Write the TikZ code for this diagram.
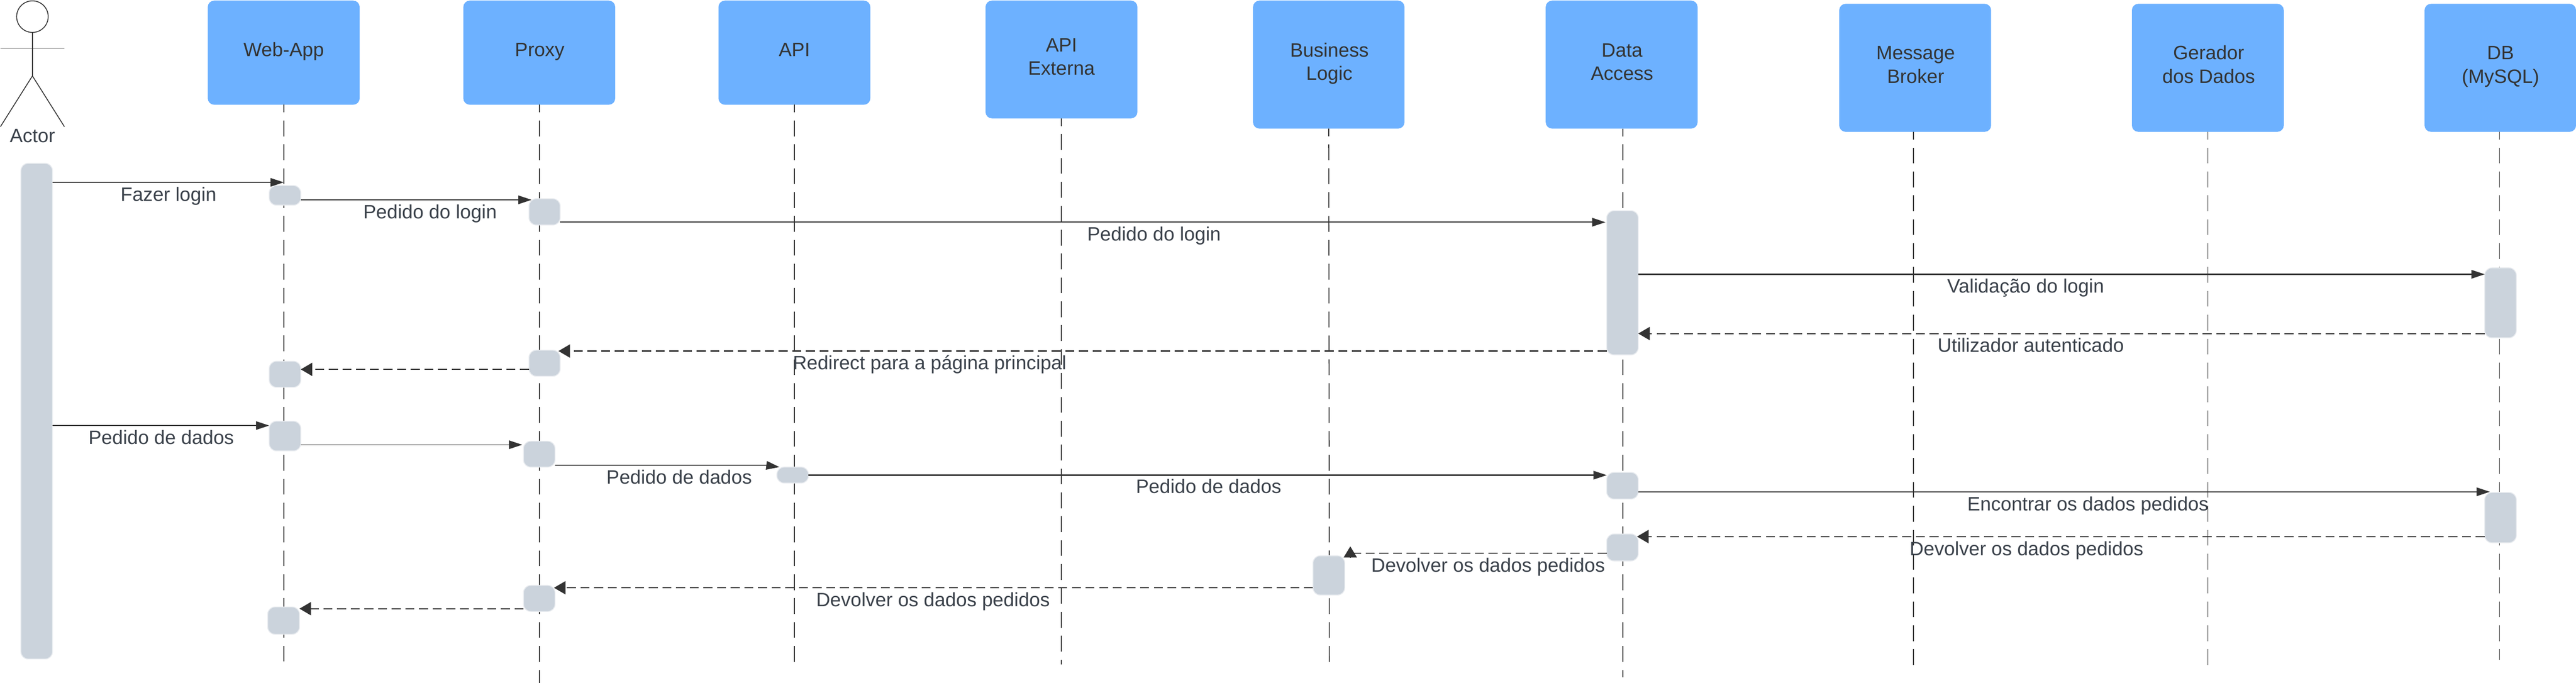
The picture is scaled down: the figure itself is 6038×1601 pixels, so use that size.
\documentclass[tikz,border=0pt]{standalone}
\usepackage{fontspec}
\setmainfont{Liberation Sans}
\usetikzlibrary{arrows.meta}
\definecolor{boxblue}{HTML}{6DB1FF}
\definecolor{actfill}{HTML}{CBD3DC}
\definecolor{actline}{HTML}{E8EBEF}
\definecolor{ink}{HTML}{333333}
\definecolor{labelink}{HTML}{3A414A}
\tikzset{
  partbox/.style={fill=boxblue,draw=none,rounded corners=15pt,inner sep=0pt,outer sep=0pt},
  parttext/.style={anchor=base,inner sep=0pt,outer sep=0pt,text=ink,font=\fontsize{45.4}{55}\selectfont},
  msglabel/.style={anchor=base,inner sep=0pt,outer sep=0pt,text=labelink,font=\fontsize{45.4}{55}\selectfont},
  lifeline/.style={draw=ink,line width=2.2pt,dash pattern=on 37pt off 19pt,dash phase=19pt},
  actbar/.style={fill=actfill,draw=actline,line width=2pt,rounded corners=17pt,inner sep=0pt,outer sep=0pt},
  solidmsg/.style={draw=ink,line width=#1,-{Triangle[length=31pt,width=20pt]}},
  solidmsg/.default=2.5pt,
  retmsg/.style={draw=ink,line width=#1,dash pattern=on 21pt off 11pt,-{Triangle[length=27pt,width=31pt]}},
  retmsg/.default=2.5pt,
  stick/.style={draw=ink,line width=2pt}
}
\newcommand{\partbx}[5]{%
  \pgfmathsetmacro{\cxv}{(#2+#4)/2}\pgfmathsetmacro{\cyv}{(#3+#5)/2}%
  \pgfmathsetmacro{\wv}{#4-#2}\pgfmathsetmacro{\hv}{#5-#3}%
  \node[partbox,minimum width=\wv pt,minimum height=\hv pt] (#1) at (\cxv,\cyv) {};}
\newcommand{\actv}[5]{%
  \pgfmathsetmacro{\cxv}{(#2+#4)/2}\pgfmathsetmacro{\cyv}{(#3+#5)/2}%
  \pgfmathsetmacro{\wv}{#4-#2}\pgfmathsetmacro{\hv}{#5-#3}%
  \node[actbar,minimum width=\wv pt,minimum height=\hv pt] (#1) at (\cxv,\cyv) {};}
\begin{document}
\begin{tikzpicture}[x=1pt,y=-1pt]
\useasboundingbox (0,0) rectangle (6038,1601);
% participants
\partbx{web}{487}{1.5}{843}{245.5}
\partbx{proxy}{1086}{1.5}{1442}{245.5}
\partbx{api}{1684}{1.5}{2040}{245.5}
\partbx{ext}{2310}{1.5}{2666}{277.5}
\partbx{biz}{2937}{1.5}{3292}{301.5}
\partbx{data}{3623}{1.5}{3979}{301.5}
\partbx{broker}{4311}{9}{4667}{309}
\partbx{gen}{4997}{9}{5353}{309}
\partbx{db}{5683}{9}{6038}{309}
\node[parttext] (webt) at (665,132.7) {Web-App};
\node[parttext] (proxyt) at (1265,132.7) {Proxy};
\node[parttext] (apit) at (1862,132.7) {API};
\node[parttext] (extt1) at (2488,121) {API};
\node[parttext] (extt2) at (2488,176) {Externa};
\node[parttext] (bizt1) at (3116,133.7) {Business};
\node[parttext] (bizt2) at (3116,188) {Logic};
\node[parttext] (datat1) at (3802,133.7) {Data};
\node[parttext] (datat2) at (3802,188) {Access};
\node[parttext] (brokert1) at (4490,140) {Message};
\node[parttext] (brokert2) at (4490,195) {Broker};
\node[parttext] (gent1) at (5177,140) {Gerador};
\node[parttext] (gent2) at (5177,195) {dos Dados};
\node[parttext] (dbt1) at (5861,140) {DB};
\node[parttext] (dbt2) at (5861,195) {(MySQL)};
% lifelines
\coordinate (webend) at (665,1551);
\coordinate (proxyend) at (1264,1601);
\coordinate (apiend) at (1862,1570);
\coordinate (extend) at (2488,1558);
\coordinate (bizend) at (3116,1558);
\coordinate (dataend) at (3804,1588);
\coordinate (brokerend) at (4485,1570);
\coordinate (genend) at (5175,1564);
\coordinate (dbend) at (5858.5,1547);
\draw[lifeline] (web.south) -- (webend);
\draw[lifeline] (proxy.south -| proxyend) -- (proxyend);
\draw[lifeline] (api.south) -- (apiend);
\draw[lifeline] (ext.south) -- (extend);
\draw[lifeline] (biz.south) -- (bizend);
\draw[lifeline] (data.south -| dataend) -- (dataend);
\draw[lifeline] (broker.south -| brokerend) -- (brokerend);
\draw[lifeline] (gen.south -| genend) -- (genend);
\draw[lifeline] (db.south -| dbend) -- (dbend);
% actor
\node[draw=ink,line width=2pt,circle,minimum size=74pt,inner sep=0pt,outer sep=0pt] (head) at (76,39) {};
\coordinate (hip) at (76,178);
\coordinate (armL) at (1,113);
\coordinate (armR) at (151,113);
\coordinate (legL) at (1,297);
\coordinate (legR) at (151,297);
\draw[stick] (head.south) -- (hip);
\draw[stick] (armL) -- (armR);
\draw[stick] (legL) -- (hip) -- (legR);
\node[msglabel] (actor) at (76,334) {Actor};
% activations
\actv{a0}{49}{383}{123}{1545}
\actv{w1}{631}{435}{705}{481}
\actv{p1}{1240}{466}{1313}{527.5}
\actv{d1}{3766}{494}{3840}{832}
\actv{b1}{5824}{628}{5898}{792}
\actv{p2}{1240}{821}{1313}{882}
\actv{w2}{631}{847}{705}{908}
\actv{w3}{631}{987.5}{705}{1057}
\actv{p3}{1227}{1034.5}{1301}{1095}
\actv{i1}{1821}{1095}{1895}{1132.5}
\actv{d2}{3766}{1107.5}{3840}{1170}
\actv{b2}{5824}{1154.5}{5898}{1272.5}
\actv{d3}{3766}{1252}{3840}{1315}
\actv{l1}{3077.5}{1303}{3152}{1395}
\actv{p4}{1227}{1372.5}{1301}{1433.5}
\actv{w4}{627.5}{1423}{702}{1487}
% messages
\draw[solidmsg=1.8pt] (a0.east |- 0,427.5) -- (web.south |- 0,427.5);
\draw[solidmsg] (w1.east |- 0,468.5) -- ([xshift=6pt]p1.west |- 0,468.5);
\draw[solidmsg] (p1.east |- 0,521) -- ([xshift=-3pt]d1.west |- 0,521);
\draw[solidmsg] (d1.east |- 0,643) -- (b1.west |- 0,643);
\draw[retmsg] (b1.west |- 0,782) -- (d1.east |- 0,782);
\draw[retmsg] (d1.west |- 0,823) -- ([xshift=-4pt]p2.east |- 0,823);
\draw[retmsg] (p2.west |- 0,866) -- (w2.east |- 0,866);
\draw[solidmsg=1.8pt] (a0.east |- 0,997.7) -- (w3.west |- 0,997.7);
\draw[solidmsg=2.2pt] (w3.east |- 0,1042.7) -- ([xshift=-3pt]p3.west |- 0,1042.7);
\coordinate (bendA) at (1796,1091);
\draw[solidmsg] (p3.east |- 0,1091) -- (bendA) -- ([xshift=6pt]i1.west |- 0,1095);
\draw[solidmsg] (i1.east |- 0,1114) -- (d2.west |- 0,1114);
\draw[solidmsg] (d2.east |- 0,1153) -- ([xshift=12pt]b2.west |- 0,1153);
\draw[retmsg] (b2.west |- 0,1258) -- ([xshift=-3pt]d3.east |- 0,1258);
\coordinate (bendB) at (3165,1297);
\draw[draw=ink,line width=1.8pt,dash pattern=on 21pt off 11pt] (d3.west |- 0,1297) -- (bendB);
\coordinate (tipB) at (3165,1281);
\draw[draw=ink,line width=1.8pt,-{Triangle[length=26pt,width=31pt]}] ([yshift=-10pt]bendB) -- (tipB);
\draw[retmsg=1.8pt] (l1.west |- 0,1378) -- ([xshift=-2.5pt]p4.east |- 0,1378);
\draw[retmsg] (p4.west |- 0,1427) -- (w4.east |- 0,1427);
% labels
\node[msglabel] (m1) at (395,472) {Fazer login};
\node[msglabel] (m2) at (1008,513) {Pedido do login};
\node[msglabel] (m3) at (2705,565) {Pedido do login};
\node[msglabel] (m4) at (4748,687) {Validação do login};
\node[msglabel] (m5) at (4760,825.5) {Utilizador autenticado};
\node[msglabel] (m6) at (2179,867) {Redirect para a página principal};
\node[msglabel] (m7) at (378,1041) {Pedido de dados};
\node[msglabel] (m8) at (1592,1134.5) {Pedido de dados};
\node[msglabel] (m9) at (2833,1156.5) {Pedido de dados};
\node[msglabel] (m10) at (4894,1197) {Encontrar os dados pedidos};
\node[msglabel] (m11) at (4750,1302) {Devolver os dados pedidos};
\node[msglabel] (m12) at (3488,1341.5) {Devolver os dados pedidos};
\node[msglabel] (m13) at (2187,1422) {Devolver os dados pedidos};
\end{tikzpicture}
\end{document}
